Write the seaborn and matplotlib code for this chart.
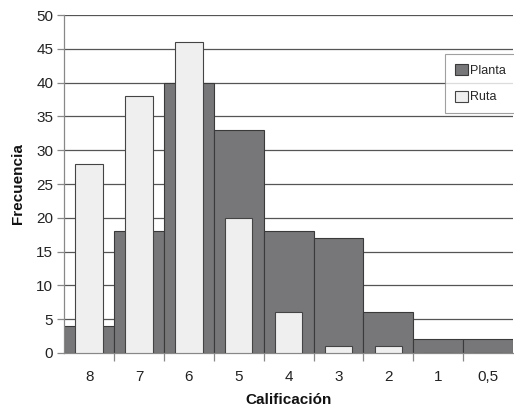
import matplotlib
matplotlib.use("Agg")
import matplotlib.pyplot as plt
import seaborn as sns
import pandas as pd
import numpy as np

categorias = ["8", "7", "6", "5", "4", "3", "2", "1", "0,5"]
planta = [4, 18, 40, 33, 18, 17, 6, 2, 2]
ruta = [28, 38, 46, 20, 6, 1, 1, 0, 0]

sns.set_theme(style="white")
plt.rcParams['font.family'] = ['Liberation Sans', 'DejaVu Sans']

df_p = pd.DataFrame({"Calificación": categorias, "Frecuencia": planta})
df_r = pd.DataFrame({"Calificación": categorias, "Frecuencia": ruta})

fig = plt.figure(figsize=(5.14, 4.09), dpi=100)
ax = fig.add_axes([0.125, 0.137, 0.873, 0.826])

sns.barplot(data=df_p, x="Calificación", y="Frecuencia", order=categorias,
            color="#77777a", saturation=1, width=1.0, edgecolor="#3a3a3a",
            linewidth=0.8, ax=ax, label="Planta", zorder=2)
sns.barplot(data=df_r, x="Calificación", y="Frecuencia", order=categorias,
            color="#efefef", saturation=1, width=0.55, edgecolor="#444444",
            linewidth=0.8, ax=ax, label="Ruta", zorder=3)

ax.set_ylim(0, 50)
ax.set_xlim(-0.5, len(categorias) - 0.5)
ax.set_yticks(np.arange(0, 51, 5))
ax.yaxis.grid(True, color="#555555", linewidth=0.9, zorder=0)
ax.set_axisbelow(True)

for s in ["top", "right"]:
    ax.spines[s].set_visible(False)
ax.spines["left"].set_color("#888888")
ax.spines["bottom"].set_color("#888888")
ax.spines["left"].set_linewidth(0.9)
ax.spines["bottom"].set_linewidth(0.9)

ax.tick_params(axis="y", which="major", length=5, width=0.9, color="#888888",
               labelsize=11, labelcolor="#222222", pad=3, left=True)
ax.tick_params(axis="x", which="major", length=0, labelsize=11,
               labelcolor="#222222", pad=12)
ax.set_xticks(np.arange(0.5, len(categorias) - 0.5, 1), minor=True)
ax.tick_params(axis="x", which="minor", length=6, width=0.9, color="#888888",
               bottom=True)

ax.set_xlabel("Calificación", fontsize=11, fontweight="bold", color="#111111", labelpad=7)
ax.set_ylabel("Frecuencia", fontsize=11, fontweight="bold", color="#111111", labelpad=8)

leg = ax.legend(loc="upper left", bbox_to_anchor=(0.849, 0.885), fontsize=9,
                frameon=True, fancybox=False, edgecolor="#888888",
                handlelength=1.0, handleheight=1.0, handletextpad=0.2,
                labelspacing=1.1, borderpad=0.8, borderaxespad=0)
leg.get_frame().set_linewidth(0.8)

fig.savefig("out.png", dpi=100)
